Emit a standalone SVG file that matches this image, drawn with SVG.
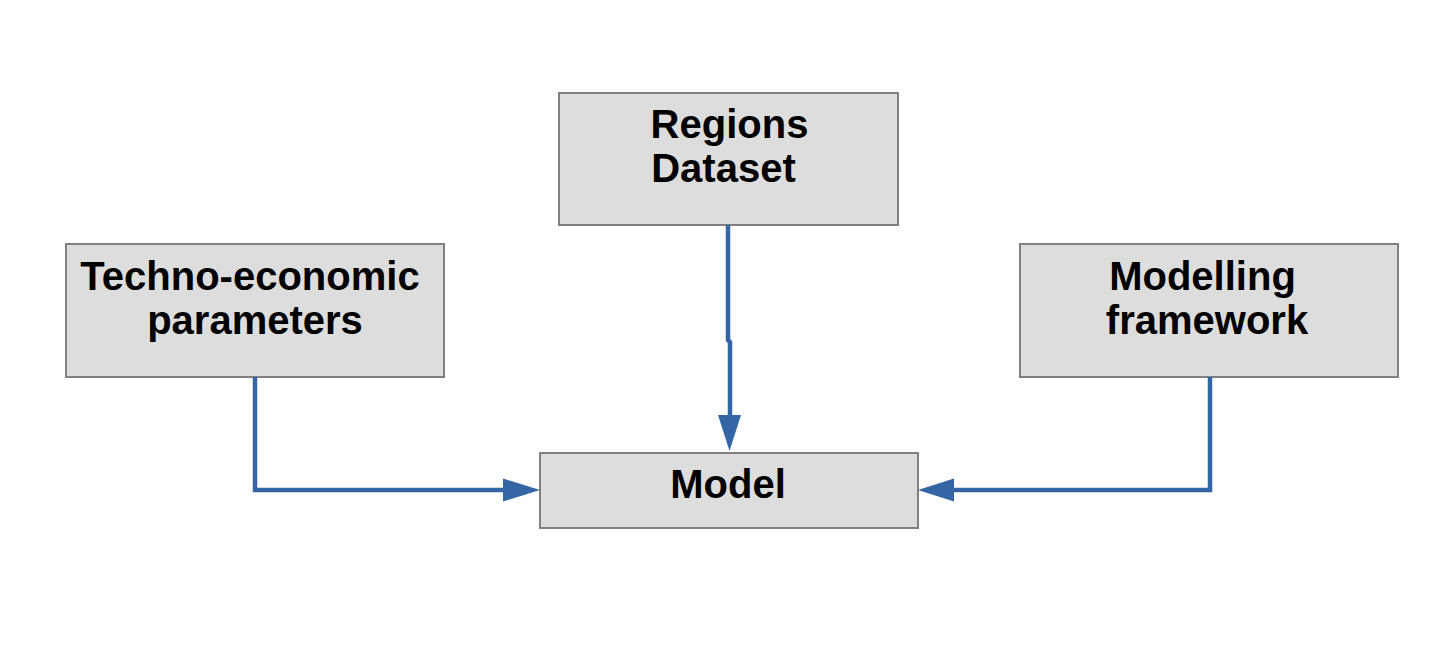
<svg xmlns="http://www.w3.org/2000/svg" width="1452" height="652" viewBox="0 0 1452 652">
<style>
.box{fill:#dddddd;stroke:#808080;stroke-width:2}
.lbl{font-family:"Liberation Sans",Arial,sans-serif;font-weight:bold;font-size:40px;fill:#000;text-anchor:middle}
.con{fill:none;stroke:#3465a4;stroke-width:4.5}
.head{fill:#3465a4}
</style>
<rect width="1452" height="652" fill="#ffffff"/>
<g id="regions">
<rect class="box" x="559" y="93" width="339" height="132"/>
<text class="lbl" x="729.5" y="138">Regions</text>
<text class="lbl" x="723.5" y="182">Dataset</text>
</g>
<g id="techno">
<rect class="box" x="66" y="244" width="378" height="133"/>
<text class="lbl" x="250" y="290">Techno-economic</text>
<text class="lbl" x="255" y="334">parameters</text>
</g>
<g id="modelling">
<rect class="box" x="1020" y="244" width="378" height="133"/>
<text class="lbl" x="1202.5" y="290">Modelling</text>
<text class="lbl" x="1207" y="334">framework</text>
</g>
<g id="model">
<rect class="box" x="540" y="453" width="378" height="75"/>
<text class="lbl" x="728" y="498">Model</text>
</g>
<g id="connectors">
<path class="con" d="M728 225 V340 L730 342 V418"/>
<polygon class="head" points="718,415 741,415 729.5,451"/>
<path class="con" d="M255 377 V490 H506"/>
<polygon class="head" points="503,478.5 503,501.5 540,490"/>
<path class="con" d="M1210 377 V490 H952"/>
<polygon class="head" points="954,478.5 954,501.5 918,490"/>
</g>
</svg>
